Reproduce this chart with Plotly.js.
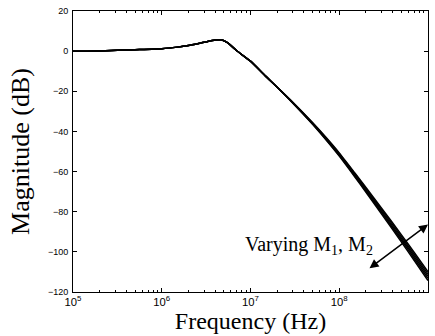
<!DOCTYPE html>
<html><head><meta charset="utf-8">
<script src="https://cdn.plot.ly/plotly-3.0.1.min.js"></script>
<style>html,body{margin:0;padding:0;background:#fff}#c{width:435px;height:336px}</style>
</head><body><div id="c"></div>
<script>
const freq = [1e5, 2e5, 5e5, 1e6, 1.5e6, 2e6, 3e6, 4e6, 4.7e6, 5.5e6, 7e6, 1e7, 1.5e7, 2e7,
              3e7, 5e7, 7e7, 1e8, 1.5e8, 2e8, 3e8, 5e8, 7e8, 1e9];
const magLow = [0, 0.1, 0.7, 1.2, 2.0, 2.8, 4.4, 5.5, 5.7, 4.2, 0.2, -5, -12.7, -18.0];
const magHighA = [-25.9, -36.4, -43.9, -52.3, -62.7, -70.3, -81.2, -95.0, -104.3, -114.3];
const magHighB = [-25.8, -36.2, -43.6, -51.9, -62.2, -69.7, -80.4, -94.1, -103.3, -113.2];
const magHighC = [-25.7, -36.0, -43.3, -51.5, -61.7, -69.1, -79.7, -93.2, -102.3, -112.1];
const magHighD = [-25.6, -35.8, -43.0, -51.1, -61.2, -68.5, -78.9, -92.3, -101.3, -111.0];
const magHighE = [-25.5, -35.6, -42.7, -50.7, -60.7, -67.9, -78.2, -91.4, -100.3, -109.9];
const yTicks = [-120, -100, -80, -60, -40, -20, 0, 20];

const highs = [magHighA, magHighB, magHighC, magHighD, magHighE];
const traces = highs.map(h => ({
  x: freq, y: magLow.concat(h), type: 'scatter', mode: 'lines',
  line: {color: '#000', width: 1.5, shape: 'spline', smoothing: 0.5},
  showlegend: false, hoverinfo: 'skip'
}));

const tickFont = {family: 'Liberation Sans, Arial, sans-serif', size: 9, color: '#000'};
const serif = 'Liberation Serif, Times New Roman, serif';

const layout = {
  width: 435, height: 336,
  margin: {l: 73, r: 7, t: 11, b: 44},
  paper_bgcolor: '#fff', plot_bgcolor: '#fff',
  xaxis: {
    type: 'log', range: [5, 9], tickmode: 'linear', tick0: 0, dtick: 1, exponentformat: 'power',
    showline: true, linecolor: '#000', linewidth: 1, mirror: 'allticks',
    ticks: 'inside', ticklen: 4, tickcolor: '#000', showgrid: false, zeroline: false,
    minor: {ticks: 'inside', ticklen: 2, tickcolor: '#000', dtick: 'D1', showgrid: false},
    tickfont: tickFont,
    title: {text: 'Frequency (Hz)', font: {family: serif, size: 24, color: '#000'}, standoff: 2}
  },
  yaxis: {
    range: [-120, 20], tickvals: yTicks,
    showline: true, linecolor: '#000', linewidth: 1, mirror: 'allticks',
    ticks: 'inside', ticklen: 4, tickcolor: '#000', showgrid: false, zeroline: false,
    tickfont: tickFont, ticklabelstandoff: 2,
    title: {text: 'Magnitude (dB)', font: {family: serif, size: 26, color: '#000'}, standoff: 10}
  },
  annotations: [
    {x: 6.915, y: -96.8, xref: 'x', yref: 'y', text: 'Varying M<sub>1</sub>, M<sub>2</sub>',
     showarrow: false, xanchor: 'left', yanchor: 'middle',
     font: {family: serif, size: 20, color: '#000'}},
    {x: 9.0, y: -86.4, ax: 8.324, ay: -108.7, xref: 'x', yref: 'y', axref: 'x', ayref: 'y',
     text: '', showarrow: true, arrowside: 'end+start', arrowhead: 2, arrowsize: 1.2,
     arrowwidth: 1.5, arrowcolor: '#000', standoff: 0, startstandoff: 0}
  ]
};
Plotly.newPlot('c', traces, layout, {displayModeBar: false, staticPlot: true});
</script></body></html>
